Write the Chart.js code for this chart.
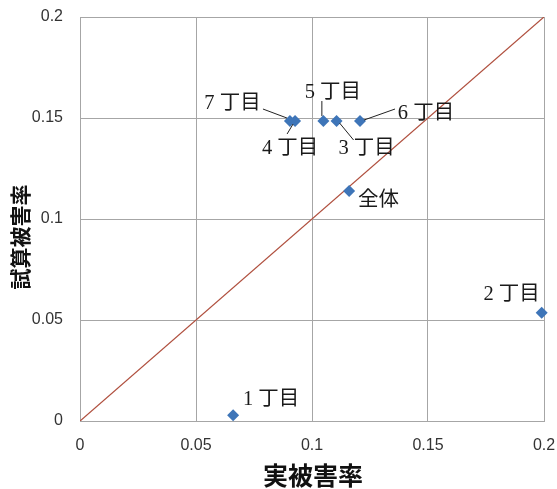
<!DOCTYPE html>
<html><head><meta charset="utf-8">
<script src="https://cdn.jsdelivr.net/npm/chart.js@4"></script>
<style>html,body{margin:0;padding:0;background:#fff;}#wrap{width:557px;height:489px;}</style>
</head><body><div id="wrap"><canvas id="c" width="557" height="489"></canvas></div>
<script>
// ---- data ----
const pointNames = ["1 丁目","2 丁目","3 丁目","4 丁目","5 丁目","6 丁目","7 丁目","全体"];
const actualRate = [0.066, 0.199, 0.1106, 0.0927, 0.1049, 0.1207, 0.0905, 0.116];
const estimatedRate = [0.0028, 0.0536, 0.1485, 0.1485, 0.1485, 0.1485, 0.1485, 0.1139];
const xTickLabels = ["0","0.05","0.1","0.15","0.2"];
const yTickLabels = ["0","0.05","0.1","0.15","0.2"];
const xTitle = "実被害率";
const yTitle = "試算被害率";

// ---- label placement (pixel offsets from the point) ----
const labelStyle = {
  "1 丁目": {dx:38, dy:-16},
  "2 丁目": {dx:-30, dy:-18},
  "3 丁目": {dx:30, dy:27.5, line:[3,2,17,19]},
  "4 丁目": {dx:-5, dy:27.5, line:[-8,13,-2,3]},
  "5 丁目": {dx:9.5, dy:-28.5, line:[-1.5,-20,-1.5,-5]},
  "6 丁目": {dx:66, dy:-7.5, line:[35,-12,4,-1]},
  "7 丁目": {dx:-57.5, dy:-17.5, line:[-27,-12,-3,-3]},
  "全体": {dx:29.5, dy:10}
};

const pts = actualRate.map((x,i)=>({x:x, y:estimatedRate[i]}));

const labelPlugin = {
  id:'labels',
  afterDatasetsDraw(chart){
    const ctx = chart.ctx, xs = chart.scales.x, ys = chart.scales.y, ca = chart.chartArea;
    ctx.save();
    pointNames.forEach((n,i)=>{
      const px = xs.getPixelForValue(actualRate[i]);
      const py = ys.getPixelForValue(estimatedRate[i]);
      const s = labelStyle[n];
      if (s.line){
        ctx.strokeStyle = '#222'; ctx.lineWidth = 1;
        ctx.beginPath();
        ctx.moveTo(px+s.line[0], py+s.line[1]);
        ctx.lineTo(px+s.line[2], py+s.line[3]);
        ctx.stroke();
      }
      ctx.fillStyle = '#1a1a1a';
      ctx.font = '20.5px "Liberation Serif", "Noto Sans CJK JP"';
      ctx.textAlign = 'center'; ctx.textBaseline = 'middle';
      ctx.fillText(n, px+s.dx, py+s.dy);
    });
    // axis titles
    ctx.fillStyle = '#111';
    ctx.font = 'bold 25px "Noto Sans CJK JP"';
    ctx.textAlign = 'center'; ctx.textBaseline = 'middle';
    ctx.fillText(xTitle, (ca.left+ca.right)/2 + 1, ca.bottom + 54);
    ctx.save();
    ctx.translate(ca.left - 60, (ca.top+ca.bottom)/2 + 18);
    ctx.rotate(-Math.PI/2);
    ctx.font = 'bold 21px "Noto Sans CJK JP"';
    ctx.fillText(yTitle, 0, 0);
    ctx.restore();
    ctx.restore();
  }
};

new Chart(document.getElementById('c'), {
  type:'scatter',
  data:{datasets:[
    {type:'line', data:[{x:0,y:0},{x:0.2,y:0.2}], borderColor:'#b0503f', borderWidth:1.3, pointRadius:0, fill:false, order:2},
    {data:pts, pointStyle:'rectRot', pointRadius:6, pointHoverRadius:6, backgroundColor:'#3e75b8', borderColor:'#3e75b8', borderWidth:0, order:1, clip:false}
  ]},
  options:{
    responsive:false, animation:false, events:[],
    layout:{padding:{top:17, right:13, left:0, bottom:0}},
    plugins:{legend:{display:false}, tooltip:{enabled:false}},
    scales:{
      x:{type:'linear', min:0, max:0.2,
        afterBuildTicks(s){ s.ticks = xTickLabels.map(v=>({value:parseFloat(v)})); },
        afterFit(s){ s.height = 68; s.paddingLeft = 0; s.paddingRight = 0; },
        ticks:{callback:(v,i)=>xTickLabels[i], color:'#333', font:{family:'"Liberation Sans"', size:16}, padding:15, maxRotation:0},
        grid:{color:'#a6a6a6', lineWidth:1, drawTicks:false},
        border:{color:'#a6a6a6'}
      },
      y:{type:'linear', min:0, max:0.2,
        afterBuildTicks(s){ s.ticks = yTickLabels.map(v=>({value:parseFloat(v)})); },
        afterFit(s){ s.width = 80; s.paddingTop = 0; s.paddingBottom = 0; },
        ticks:{callback:(v,i)=>yTickLabels[i], color:'#333', font:{family:'"Liberation Sans"', size:16}, padding:17},
        grid:{color:'#a6a6a6', lineWidth:1, drawTicks:false},
        border:{color:'#a6a6a6'}
      }
    }
  },
  plugins:[labelPlugin]
});
</script></body></html>
